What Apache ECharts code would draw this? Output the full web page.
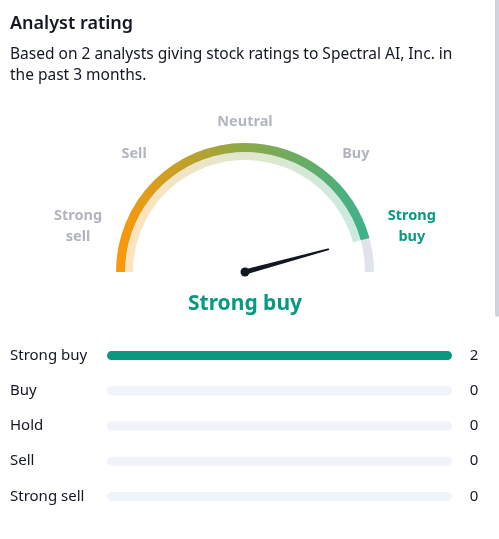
<!DOCTYPE html>
<html>
<head>
<meta charset="utf-8">
<script src="https://cdn.jsdelivr.net/npm/echarts@6/dist/echarts.min.js"></script>
<style>
  html, body { margin: 0; padding: 0; background: #fff; }
  #chart { width: 499px; height: 539px; }
</style>
</head>
<body>
<div id="chart"></div>
<script>
// rating scale of the gauge, strong sell -> strong buy
const ratingNames = ['Strong sell', 'Sell', 'Neutral', 'Buy', 'Strong buy'];
const ratingLabelText = ['Strong\nsell', 'Sell', 'Neutral', 'Buy', 'Strong\nbuy'];
const ratingValues = [-0.83, -0.48, 0, 0.48, 0.83];
const gaugeMin = -1;
const gaugeMax = 1;
const gaugeValue = 0.83;

// analyst counts per rating
const rowNames = ['Strong buy', 'Buy', 'Hold', 'Sell', 'Strong sell'];
const rowCounts = [2, 0, 0, 0, 0];

const FONT = 'Noto Sans';
const cx = 245, cy = 272, R = 129;
const labelRadius = [173, 162, 150, 162, 173];

function nearestRating(v) {
  let best = 0;
  ratingValues.forEach((r, i) => {
    if (Math.abs(r - v) < Math.abs(ratingValues[best] - v)) best = i;
  });
  return best;
}
const active = nearestRating(gaugeValue);

const grad = (alpha) => new echarts.graphic.LinearGradient(0, 0, 1, 0, [
  {offset: 0, color: `rgba(253,152,10,${alpha})`},
  {offset: 0.5, color: `rgba(142,168,67,${alpha})`},
  {offset: 1, color: `rgba(60,178,140,${alpha})`}
]);

// labels round the dial, placed from the gauge's own scale
const dialLabels = ratingLabelText.map((t, i) => {
  const a = Math.PI * (1 - (ratingValues[i] - gaugeMin) / (gaugeMax - gaugeMin));
  return {
    type: 'text',
    x: cx + labelRadius[i] * Math.cos(a),
    y: cy - labelRadius[i] * Math.sin(a),
    style: {
      text: t,
      align: 'center',
      verticalAlign: 'middle',
      fontFamily: FONT,
      fontSize: 14.5,
      fontWeight: 'bold',
      lineHeight: 21,
      fill: i === active ? '#089981' : '#b2b5be'
    }
  };
});

const chart = echarts.init(document.getElementById('chart'));
chart.setOption({
  animation: false,
  textStyle: { fontFamily: FONT },
  title: {
    left: 10,
    top: 12,
    padding: 0,
    text: 'Analyst rating',
    textStyle: { fontSize: 18, fontWeight: 600, color: '#131722', lineHeight: 24 },
    subtext: 'Based on 2 analysts giving stock ratings to Spectral AI, Inc. in\nthe past 3 months.',
    subtextStyle: { fontSize: 15.5, color: '#131722', lineHeight: 21 },
    itemGap: 8
  },
  graphic: dialLabels.concat([
    // page scrollbar
    { type: 'rect', shape: { x: 495, y: 0, width: 4, height: 317, r: [0, 0, 2, 2] }, style: { fill: '#d1d4dc' } }
  ]),
  grid: { left: 107, right: 47, top: 338, bottom: 25 },
  xAxis: { type: 'value', min: 0, max: 2, show: false },
  yAxis: [
    {
      type: 'category',
      inverse: true,
      data: rowNames,
      axisLine: { show: false },
      axisTick: { show: false },
      axisLabel: { align: 'left', margin: 97, fontSize: 15, color: '#131722' }
    },
    {
      type: 'category',
      inverse: true,
      position: 'right',
      data: rowCounts.map(String),
      axisLine: { show: false },
      axisTick: { show: false },
      axisLabel: { align: 'center', margin: 22, fontSize: 15, color: '#131722' }
    }
  ],
  series: [
    {
      type: 'bar',
      data: rowCounts,
      barWidth: 9,
      showBackground: true,
      backgroundStyle: { color: '#f0f3fa', borderRadius: 5 },
      itemStyle: { color: '#089981', borderRadius: 5 }
    },
    {
      type: 'gauge',
      center: [cx, cy],
      radius: R,
      startAngle: 180,
      endAngle: 0,
      min: gaugeMin,
      max: gaugeMax,
      axisLine: { lineStyle: { width: 9, color: [[1, '#e0e3eb']] } },
      progress: { show: true, width: 9, itemStyle: { color: grad(1) } },
      axisTick: { show: false },
      splitLine: { show: false },
      axisLabel: { show: false },
      pointer: {
        show: true,
        icon: 'path://M1.3 0 L2.7 0 L4 10 L0 10 Z',
        length: 87,
        width: 5,
        itemStyle: { color: '#131722' }
      },
      anchor: { show: true, size: 9, itemStyle: { color: '#131722' } },
      title: { show: false },
      detail: {
        offsetCenter: [0, 32],
        formatter: (v) => ratingNames[nearestRating(v)],
        fontFamily: FONT,
        fontSize: 21,
        fontWeight: 'bold',
        color: '#089981'
      },
      data: [{ value: gaugeValue }]
    },
    {
      type: 'gauge',
      center: [cx, cy],
      radius: R - 9,
      startAngle: 180,
      endAngle: 0,
      min: gaugeMin,
      max: gaugeMax,
      axisLine: { show: false },
      progress: { show: true, width: 8, itemStyle: { color: grad(0.27) } },
      axisTick: { show: false },
      splitLine: { show: false },
      axisLabel: { show: false },
      pointer: { show: false },
      title: { show: false },
      detail: { show: false },
      z: 1,
      data: [{ value: gaugeValue }]
    }
  ]
});
</script>
</body>
</html>
